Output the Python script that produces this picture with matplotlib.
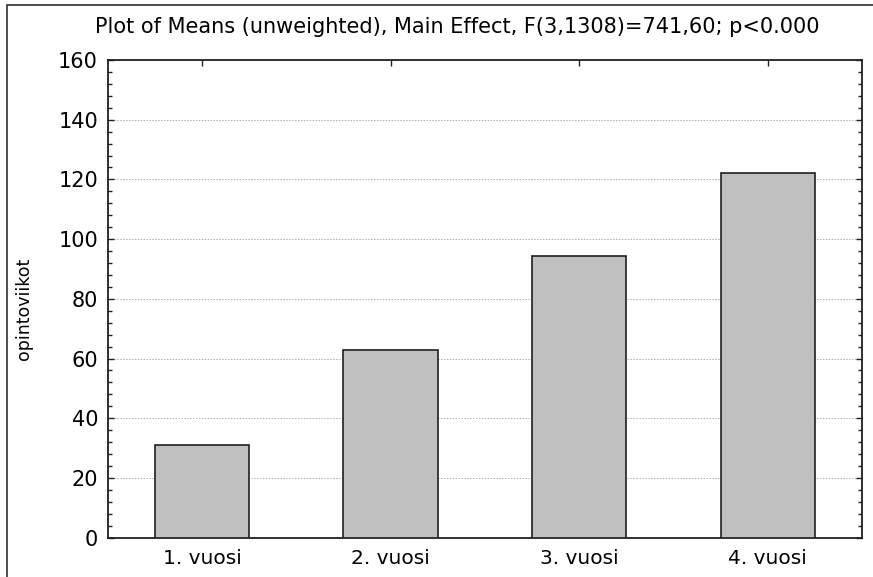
import matplotlib
matplotlib.use('Agg')
import matplotlib.pyplot as plt
from matplotlib.patches import Rectangle
from matplotlib.ticker import MultipleLocator

# data
categories = ['1. vuosi', '2. vuosi', '3. vuosi', '4. vuosi']
means = [31.0, 63.0, 94.4, 122.2]
title = 'Plot of Means (unweighted), Main Effect, F(3,1308)=741,60; p<0.000'
ylabel = 'opintoviikot'

plt.rcParams['font.family'] = ['DejaVu Sans']

fig = plt.figure(figsize=(8.73, 5.77), dpi=100)
ax = fig.add_axes([0.1234, 0.0681, 0.864, 0.828])

x = range(len(categories))
ax.bar(x, means, width=0.5, color='#c0c0c0', edgecolor='#202020', linewidth=1.2, zorder=3)

ax.set_xlim(-0.5, len(categories) - 0.5)
ax.set_ylim(0, 160)
ax.set_xticks(list(x))
ax.set_xticklabels(categories, fontsize=14.5)
ax.yaxis.set_major_locator(MultipleLocator(20))
ax.yaxis.set_minor_locator(MultipleLocator(4))
ax.tick_params(axis='y', labelsize=15, pad=7)
ax.tick_params(which='both', direction='in', top=True, right=True, color='#202020')
ax.tick_params(which='major', length=4, width=1)
ax.tick_params(which='minor', length=3, width=1)
ax.tick_params(axis='x', pad=8)
ax.grid(axis='y', linestyle=(0, (1.5, 1.5)), color='#b0b0b0', linewidth=0.7, zorder=0)
ax.set_axisbelow(True)
for s in ax.spines.values():
    s.set_linewidth(1.3)
    s.set_color('#202020')

ax.set_ylabel(ylabel, fontsize=12.5)
ax.yaxis.set_label_coords(-0.099, 0.478)

fig.text(0.524, 0.953, title, ha='center', va='center', fontsize=15)

# outer frame
fig.add_artist(Rectangle((7 / 873, -0.1), 1.2, 1.1 - 5 / 577, transform=fig.transFigure,
                         fill=False, edgecolor='#303030', linewidth=1.2))

fig.savefig('out.png', dpi=100)
